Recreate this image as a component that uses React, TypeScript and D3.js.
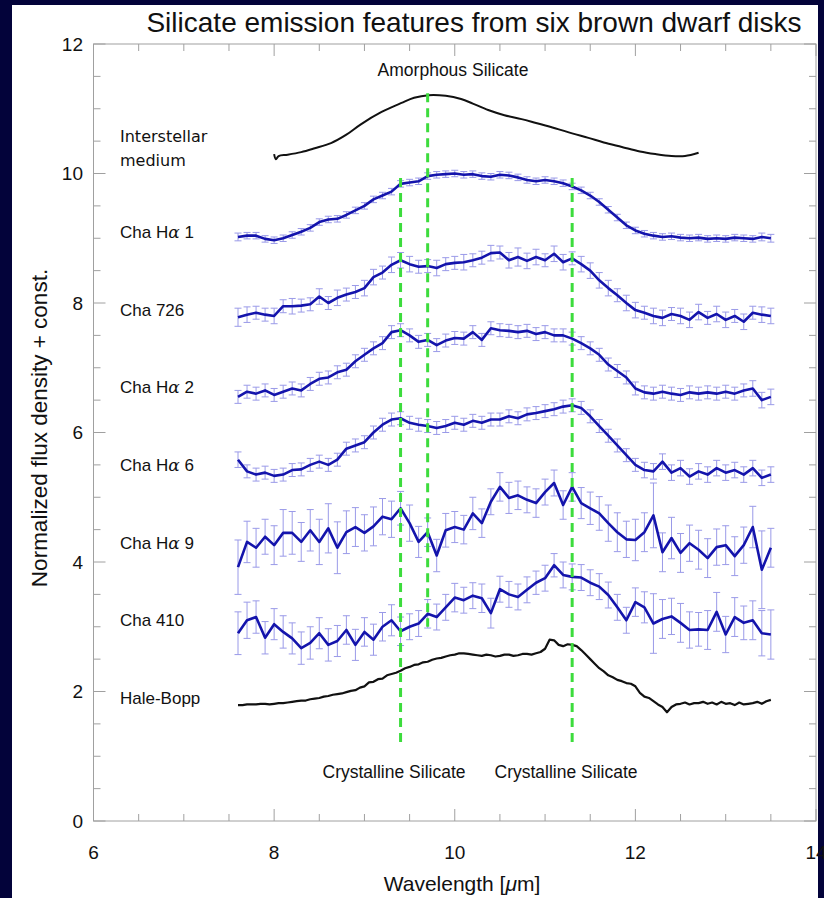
import React from 'react';
import * as d3 from 'd3';

// wavelength grid of the IRS spectra (micron)
const wavelengths = [
  7.6, 7.7, 7.8, 7.9, 8.0, 8.1, 8.2, 8.3, 8.4, 8.5,
  8.6, 8.7, 8.8, 8.9, 9.0, 9.1, 9.2, 9.3, 9.4, 9.5,
  9.6, 9.7, 9.8, 9.9, 10.0, 10.1, 10.2, 10.3, 10.4, 10.5,
  10.6, 10.7, 10.8, 10.9, 11.0, 11.1, 11.2, 11.3, 11.4, 11.5,
  11.6, 11.7, 11.8, 11.9, 12.0, 12.1, 12.2, 12.3, 12.4, 12.5,
  12.6, 12.7, 12.8, 12.9, 13.0, 13.1, 13.2, 13.3, 13.4, 13.5
];

const fluxHa1 = [
  9.02, 9.04, 9.04, 8.99, 8.97, 9.0, 9.05, 9.1, 9.16, 9.25,
  9.29, 9.3, 9.36, 9.43, 9.5, 9.6, 9.66, 9.72, 9.84, 9.86,
  9.88, 9.96, 9.98, 9.99, 10.0, 9.98, 9.99, 9.96, 9.95, 9.98,
  9.97, 9.94, 9.9, 9.88, 9.9, 9.88, 9.85, 9.8, 9.74, 9.66,
  9.56, 9.44, 9.32, 9.2, 9.12, 9.07, 9.04, 9.02, 9.03, 9.01,
  9.0, 9.01, 8.99, 9.0, 8.99, 9.01, 9.0, 8.99, 9.02, 9.0
];
const errHa1 = [
  0.06, 0.05, 0.05, 0.05, 0.05, 0.05, 0.05, 0.05, 0.05, 0.05,
  0.05, 0.05, 0.05, 0.05, 0.05, 0.05, 0.05, 0.05, 0.05, 0.05,
  0.05, 0.05, 0.05, 0.05, 0.05, 0.05, 0.05, 0.05, 0.05, 0.05,
  0.05, 0.05, 0.05, 0.05, 0.05, 0.05, 0.05, 0.05, 0.05, 0.05,
  0.05, 0.05, 0.05, 0.05, 0.05, 0.05, 0.05, 0.05, 0.05, 0.05,
  0.05, 0.05, 0.05, 0.05, 0.05, 0.05, 0.05, 0.05, 0.06, 0.06
];

const fluxC726 = [
  7.78, 7.82, 7.85, 7.82, 7.8, 7.95, 7.95, 7.96, 7.98, 8.1,
  8.0, 8.08, 8.13, 8.17, 8.23, 8.4, 8.47, 8.59, 8.66, 8.6,
  8.56, 8.57, 8.54, 8.6, 8.62, 8.63, 8.66, 8.7, 8.77, 8.78,
  8.66, 8.71, 8.65, 8.71, 8.66, 8.76, 8.63, 8.69, 8.6, 8.5,
  8.35, 8.23, 8.12, 8.0, 7.89, 7.85, 7.8, 7.77, 7.83, 7.8,
  7.74, 7.86, 7.77, 7.83, 7.74, 7.8, 7.71, 7.85, 7.82, 7.8
];
const errC726 = [
  0.14, 0.12, 0.1, 0.1, 0.12, 0.1, 0.12, 0.1, 0.1, 0.12,
  0.1, 0.12, 0.1, 0.1, 0.12, 0.12, 0.1, 0.12, 0.12, 0.12,
  0.1, 0.1, 0.12, 0.1, 0.1, 0.12, 0.1, 0.1, 0.12, 0.1,
  0.12, 0.14, 0.12, 0.12, 0.1, 0.12, 0.12, 0.1, 0.12, 0.12,
  0.12, 0.12, 0.1, 0.12, 0.12, 0.1, 0.12, 0.12, 0.1, 0.12,
  0.12, 0.12, 0.1, 0.12, 0.12, 0.1, 0.12, 0.1, 0.12, 0.12
];

const fluxHa2 = [
  6.55, 6.63, 6.6, 6.65, 6.58, 6.63, 6.68, 6.65, 6.75, 6.83,
  6.85, 6.93, 6.97, 7.1, 7.2, 7.3, 7.38, 7.55, 7.58, 7.5,
  7.4, 7.43, 7.35, 7.42, 7.46, 7.45, 7.55, 7.43, 7.61, 7.58,
  7.57, 7.55, 7.57, 7.52, 7.55, 7.5, 7.5, 7.45, 7.38, 7.3,
  7.2, 7.05, 6.95, 6.85, 6.68, 6.62, 6.6, 6.63, 6.6, 6.58,
  6.62, 6.6, 6.62, 6.6, 6.63, 6.6, 6.65, 6.68, 6.5, 6.55
];
const errHa2 = [
  0.1, 0.1, 0.1, 0.1, 0.1, 0.1, 0.1, 0.1, 0.1, 0.1,
  0.1, 0.1, 0.1, 0.1, 0.1, 0.1, 0.1, 0.1, 0.1, 0.1,
  0.1, 0.1, 0.1, 0.1, 0.1, 0.1, 0.1, 0.1, 0.1, 0.1,
  0.1, 0.1, 0.1, 0.1, 0.1, 0.1, 0.1, 0.1, 0.1, 0.1,
  0.1, 0.1, 0.1, 0.1, 0.1, 0.1, 0.1, 0.1, 0.1, 0.1,
  0.1, 0.1, 0.1, 0.1, 0.1, 0.1, 0.1, 0.12, 0.12, 0.12
];

const fluxHa6 = [
  5.58, 5.4, 5.35, 5.38, 5.33, 5.35, 5.42, 5.43, 5.5, 5.55,
  5.5, 5.58, 5.75, 5.8, 5.85, 6.0, 6.12, 6.2, 6.22, 6.15,
  6.12, 6.1, 6.07, 6.1, 6.15, 6.12, 6.18, 6.15, 6.2, 6.2,
  6.25, 6.22, 6.28, 6.3, 6.33, 6.36, 6.4, 6.42, 6.38, 6.25,
  6.1, 5.95, 5.8, 5.65, 5.5, 5.42, 5.4, 5.55, 5.38, 5.45,
  5.32, 5.4, 5.35, 5.45, 5.38, 5.42, 5.35, 5.45, 5.3, 5.35
];
const errHa6 = [
  0.12, 0.1, 0.1, 0.1, 0.1, 0.1, 0.1, 0.1, 0.1, 0.1,
  0.1, 0.1, 0.1, 0.1, 0.1, 0.1, 0.1, 0.1, 0.1, 0.1,
  0.1, 0.1, 0.1, 0.1, 0.1, 0.1, 0.1, 0.1, 0.1, 0.1,
  0.1, 0.1, 0.1, 0.1, 0.1, 0.1, 0.1, 0.1, 0.1, 0.1,
  0.1, 0.1, 0.1, 0.1, 0.1, 0.12, 0.12, 0.12, 0.12, 0.12,
  0.12, 0.12, 0.12, 0.12, 0.12, 0.12, 0.12, 0.12, 0.12, 0.12
];

const fluxHa9 = [
  3.92, 4.31, 4.22, 4.39, 4.26, 4.45, 4.45, 4.31, 4.49, 4.31,
  4.52, 4.22, 4.46, 4.54, 4.45, 4.55, 4.7, 4.66, 4.83, 4.6,
  4.31, 4.46, 4.1, 4.49, 4.54, 4.5, 4.75, 4.6, 4.93, 5.16,
  4.99, 5.03, 4.96, 4.91, 5.08, 5.22, 4.88, 5.16, 4.91, 4.83,
  4.75, 4.6, 4.46, 4.35, 4.34, 4.46, 4.72, 4.15, 4.37, 4.14,
  4.29, 4.19, 4.06, 4.23, 4.26, 4.09, 4.26, 4.54, 3.88, 4.22
];
const errHa9 = [
  0.42, 0.32, 0.3, 0.27, 0.3, 0.36, 0.33, 0.3, 0.32, 0.35,
  0.38, 0.4, 0.33, 0.3, 0.28, 0.3, 0.28, 0.28, 0.26, 0.28,
  0.24, 0.22, 0.25, 0.26, 0.24, 0.22, 0.25, 0.22, 0.2, 0.22,
  0.24, 0.22, 0.2, 0.22, 0.2, 0.2, 0.22, 0.22, 0.24, 0.25,
  0.26, 0.28, 0.3, 0.28, 0.32, 0.3, 0.5, 0.3, 0.32, 0.3,
  0.28, 0.3, 0.3, 0.28, 0.3, 0.3, 0.28, 0.32, 0.6, 0.3
];

const fluxC410 = [
  2.9, 3.1, 3.15, 2.83, 3.04, 2.92, 2.82, 2.67, 2.75, 2.9,
  2.72, 2.78, 2.95, 2.72, 2.92, 2.8, 3.0, 3.1, 2.93, 3.0,
  3.05, 3.2, 3.15, 3.3, 3.45, 3.41, 3.48, 3.44, 3.21, 3.58,
  3.5, 3.46, 3.57, 3.68, 3.75, 3.95, 3.8, 3.77, 3.76, 3.68,
  3.62, 3.49, 3.3, 3.1, 3.38, 3.3, 3.05, 3.12, 3.16, 3.06,
  2.95, 2.96, 2.95, 3.23, 2.88, 3.15, 3.06, 3.1, 2.9, 2.88
];
const errC410 = [
  0.33, 0.28, 0.25, 0.25, 0.24, 0.25, 0.24, 0.25, 0.25, 0.24,
  0.25, 0.24, 0.22, 0.24, 0.22, 0.24, 0.22, 0.24, 0.22, 0.2,
  0.2, 0.22, 0.2, 0.2, 0.22, 0.2, 0.2, 0.22, 0.23, 0.2,
  0.2, 0.2, 0.2, 0.18, 0.2, 0.18, 0.2, 0.2, 0.2, 0.2,
  0.2, 0.2, 0.2, 0.2, 0.22, 0.24, 0.46, 0.3, 0.28, 0.3,
  0.28, 0.26, 0.3, 0.3, 0.28, 0.3, 0.26, 0.3, 0.35, 0.38
];

// comet Hale-Bopp, finer sampling
const hbWave = [
  7.6, 7.65, 7.7, 7.75, 7.8, 7.85, 7.9, 7.95, 8.0, 8.05,
  8.1, 8.15, 8.2, 8.25, 8.3, 8.35, 8.4, 8.45, 8.5, 8.55,
  8.6, 8.65, 8.7, 8.75, 8.8, 8.85, 8.9, 8.95, 9.0, 9.05,
  9.1, 9.15, 9.2, 9.25, 9.3, 9.35, 9.4, 9.45, 9.5, 9.55,
  9.6, 9.65, 9.7, 9.75, 9.8, 9.85, 9.9, 9.95, 10.0, 10.05,
  10.1, 10.15, 10.2, 10.25, 10.3, 10.35, 10.4, 10.45, 10.5, 10.55,
  10.6, 10.65, 10.7, 10.75, 10.8, 10.85, 10.9, 10.95, 11.0, 11.05,
  11.1, 11.15, 11.2, 11.25, 11.3, 11.35, 11.4, 11.45, 11.5, 11.55,
  11.6, 11.65, 11.7, 11.75, 11.8, 11.85, 11.9, 11.95, 12.0, 12.05,
  12.1, 12.15, 12.2, 12.25, 12.3, 12.35, 12.4, 12.45, 12.5, 12.55,
  12.6, 12.65, 12.7, 12.75, 12.8, 12.85, 12.9, 12.95, 13.0, 13.05,
  13.1, 13.15, 13.2, 13.25, 13.3, 13.35, 13.4, 13.45, 13.5
];
const hbFlux = [
  1.79, 1.79, 1.8, 1.8, 1.8, 1.81, 1.81, 1.8, 1.81, 1.82,
  1.82, 1.83, 1.84, 1.85, 1.86, 1.86, 1.88, 1.89, 1.9, 1.92,
  1.93, 1.95, 1.96, 1.97, 1.99, 2.01, 2.02, 2.06, 2.08, 2.14,
  2.15, 2.19, 2.2, 2.25, 2.27, 2.29, 2.32, 2.36, 2.38, 2.41,
  2.42, 2.45, 2.46, 2.49, 2.51, 2.52, 2.54, 2.56, 2.57, 2.59,
  2.59, 2.58, 2.57, 2.56, 2.55, 2.57, 2.56, 2.54, 2.55, 2.57,
  2.57, 2.55, 2.56, 2.58, 2.58, 2.57, 2.59, 2.61, 2.66, 2.8,
  2.79, 2.72, 2.7, 2.73, 2.72, 2.7, 2.64, 2.57, 2.5, 2.43,
  2.36, 2.31, 2.25, 2.22, 2.18, 2.16, 2.13, 2.12, 2.08, 1.98,
  1.92, 1.9, 1.85, 1.8, 1.76, 1.68, 1.76, 1.8, 1.81, 1.83,
  1.8, 1.82, 1.82, 1.84, 1.81, 1.83, 1.8, 1.84, 1.81, 1.82,
  1.79, 1.83, 1.8, 1.81, 1.82, 1.84, 1.81, 1.85, 1.87
];

// interstellar medium template
const ismWave = [8.0, 8.02, 8.05, 8.15, 8.3, 8.45, 8.63, 8.8, 8.96, 9.19, 9.41, 9.55, 9.71, 9.9, 10.07, 10.2, 10.37, 10.55, 10.74, 10.9, 11.11, 11.3, 11.48, 11.65, 11.85, 12.05, 12.22, 12.4, 12.55, 12.7];
const ismFlux = [10.3, 10.22, 10.27, 10.29, 10.33, 10.39, 10.47, 10.6, 10.76, 10.95, 11.09, 11.17, 11.21, 11.2, 11.15, 11.08, 10.98, 10.9, 10.84, 10.78, 10.7, 10.62, 10.55, 10.48, 10.41, 10.34, 10.3, 10.27, 10.27, 10.32];

const seriesNames = ['Cha Hα 1', 'Cha 726', 'Cha Hα 2', 'Cha Hα 6', 'Cha Hα 9', 'Cha 410', 'Hale-Bopp'];

// vertical markers: wavelength, top and bottom of the dashed line
const markerWave = [9.4, 9.7, 11.3];
const markerTop = [9.93, 11.24, 9.93];
const markerBottom = [1.17, 3.0, 1.17];

const xTickLabels = [6, 8, 10, 12, 14];
const yTickLabels = [0, 2, 4, 6, 8, 10, 12];

const W = 824, H = 898;
const x = d3.scaleLinear().domain([6, 14]).range([93.5, 816]);
const y = d3.scaleLinear().domain([0, 12]).range([821, 44]);

const font = 'Liberation Sans, Arial, Helvetica, sans-serif';
const gothic = 'URW Gothic, Century Gothic, DejaVu Sans, sans-serif';
const blue = '#1414ac';
const errColor = '#9a9ae8';
const axisColor = '#a0a0a0';

const labelY = [232, 310, 387, 465, 543, 620, 698];

function Name({ text, ty }: { text: string; ty: number }) {
  const parts = text.split('α');
  return (
    <text x={120} y={ty} dy="0.35em" fontFamily={font} fontSize={17} fill="#111">
      {parts[0]}
      {parts.length > 1 && <tspan fontStyle="italic" fontFamily="DejaVu Serif, serif">α</tspan>}
      {parts.length > 1 && parts[1]}
    </text>
  );
}

export default function App() {
  const spectra = [
    { flux: fluxHa1, err: errHa1 },
    { flux: fluxC726, err: errC726 },
    { flux: fluxHa2, err: errHa2 },
    { flux: fluxHa6, err: errHa6 },
    { flux: fluxHa9, err: errHa9 },
    { flux: fluxC410, err: errC410 },
  ];

  const gridLine = d3.line<number>()
    .x((_, i) => x(wavelengths[i]))
    .y(d => y(d));
  const hbLine = d3.line<number>()
    .x((_, i) => x(hbWave[i]))
    .y(d => y(d));
  const ismLine = d3.line<number>()
    .x((_, i) => x(ismWave[i]))
    .y(d => y(d))
    .curve(d3.curveCatmullRom);

  const xt = d3.range(6, 14.001, 0.5);
  const yt = d3.range(0, 12.001, 0.5);
  const [x0, x1] = x.range();
  const [y0, y1] = y.range();

  return (
    <svg width={W} height={H} style={{ position: 'absolute', left: 0, top: 0 }}>
      <rect x={0} y={0} width={W} height={H} fill="#03033a" />
      <rect x={12} y={5} width={806} height={H - 5} fill="#ffffff" />

      <text x={474} y={32} textAnchor="middle" fontFamily={font} fontSize={28} fill="#111">
        Silicate emission features from six brown dwarf disks
      </text>

      {/* frame */}
      <rect x={x0} y={y1} width={x1 - x0} height={y0 - y1} fill="none" stroke={axisColor} strokeWidth={1} />
      {xt.map(v => {
        const len = v % 2 === 0 ? 12 : 7;
        return (
          <g key={'xt' + v} stroke={axisColor}>
            <line x1={x(v)} x2={x(v)} y1={y0} y2={y0 - len} />
            <line x1={x(v)} x2={x(v)} y1={y1} y2={y1 + len} />
          </g>
        );
      })}
      {yt.map(v => {
        const len = v % 2 === 0 ? 12 : 7;
        return (
          <g key={'yt' + v} stroke={axisColor}>
            <line x1={x0} x2={x0 + len} y1={y(v)} y2={y(v)} />
            <line x1={x1} x2={x1 - len} y1={y(v)} y2={y(v)} />
          </g>
        );
      })}
      {xTickLabels.map(v => (
        <text key={'xl' + v} x={x(v)} y={859} textAnchor="middle" fontFamily={font} fontSize={19} fill="#111">{v}</text>
      ))}
      {yTickLabels.map(v => (
        <text key={'yl' + v} x={83} y={y(v)} dy="0.35em" textAnchor="end" fontFamily={font} fontSize={19} fill="#111">{v}</text>
      ))}
      <text x={462} y={891} textAnchor="middle" fontFamily={font} fontSize={21} fill="#111">
        Wavelength [<tspan fontStyle="italic">μ</tspan>m]
      </text>
      <text transform="translate(47,428) rotate(-90)" textAnchor="middle" fontFamily={font} fontSize={22.5} fill="#111">
        Normalized flux density + const.
      </text>

      {/* ISM */}
      <path d={ismLine(ismFlux) || ''} fill="none" stroke="#111" strokeWidth={2} />

      {/* brown dwarf spectra */}
      {spectra.map((s, k) => (
        <g key={'s' + k}>
          {s.flux.map((f, i) => {
            const px = x(wavelengths[i]);
            const top = y(f + s.err[i]);
            const bot = y(f - s.err[i]);
            return (
              <g key={i} stroke={errColor} strokeWidth={1}>
                <line x1={px} x2={px} y1={top} y2={bot} />
                <line x1={px - 3.5} x2={px + 3.5} y1={top} y2={top} />
                <line x1={px - 3.5} x2={px + 3.5} y1={bot} y2={bot} />
              </g>
            );
          })}
          <path d={gridLine(s.flux) || ''} fill="none" stroke={blue} strokeWidth={2.6} strokeLinejoin="round" />
        </g>
      ))}

      {/* Hale-Bopp */}
      <path d={hbLine(hbFlux) || ''} fill="none" stroke="#111" strokeWidth={2.2} strokeLinejoin="round" />

      {/* silicate markers */}
      {markerWave.map((w, i) => (
        <line key={'m' + i} x1={x(w)} x2={x(w)} y1={y(markerTop[i])} y2={y(markerBottom[i])}
          stroke="#3ddc3d" strokeWidth={3} strokeDasharray="9,6" />
      ))}
      <text x={453} y={76} textAnchor="middle" fontFamily={font} fontSize={17.5} fill="#111">Amorphous Silicate</text>
      <text x={394} y={778} textAnchor="middle" fontFamily={font} fontSize={17.5} fill="#111">Crystalline Silicate</text>
      <text x={566} y={778} textAnchor="middle" fontFamily={font} fontSize={17.5} fill="#111">Crystalline Silicate</text>

      {/* labels */}
      <text x={120} y={136} dy="0.35em" fontFamily={gothic} fontSize={16} fill="#111">Interstellar</text>
      <text x={120} y={160} dy="0.35em" fontFamily={gothic} fontSize={16} fill="#111">medium</text>
      {seriesNames.map((n, i) => (
        <Name key={n} text={n} ty={labelY[i]} />
      ))}
    </svg>
  );
}
